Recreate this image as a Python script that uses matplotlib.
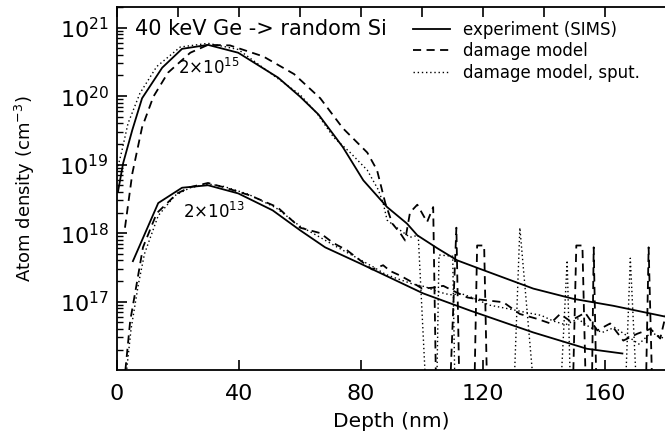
#!/usr/bin/env python
# -*- coding: utf-8 -*-

import numpy as np
import matplotlib
matplotlib.use('Agg')
import matplotlib.pyplot as plt
from matplotlib.ticker import MultipleLocator, LogLocator

plt.rcParams['font.family'] = ['DejaVu Sans']
plt.rcParams['mathtext.fontset'] = 'dejavusans'

LOW = 1e15  # below the axis -> line drops to the bottom

# 2e15 dose
hi_exp_x = [0.3, 2, 5, 8.2, 14.8, 21.3, 29.8, 39.7, 52.8, 60, 66, 74, 80.7, 88.5, 95,
            98.4, 105, 111.5, 119, 136.4, 149.5, 162.6, 180]
hi_exp_y = [4.0e18, 1.05e19, 3.2e19, 9.3e19, 2.6e20, 4.9e20, 5.6e20, 4.3e20, 1.86e20,
            9.8e19, 5.4e19, 1.8e19, 5.9e18, 2.4e18, 1.38e18, 9.3e17, 6.0e17, 4.0e17,
            3.0e17, 1.55e17, 1.1e17, 8.7e16, 6.0e16]

hi_dam_x = [2.6, 5, 8.2, 11.9, 16.7, 24, 29.8, 37, 47.9, 58, 66.6, 74, 82, 85.2, 87.9,
            90.2, 92.8, 94.4, 96, 98.4, 101.6, 103.6, 104.8, 108.5, 111.2, 112.5, 116.8,
            118, 120.3, 121.6, 149, 150.5, 152.5, 154, 155.4, 156.2, 157.4, 173, 174.2,
            175.8, 180]
hi_dam_y = [1.2e18, 7.4e18, 3.5e19, 9.8e19, 2.2e20, 4.3e20, 5.6e20, 5.5e20, 3.8e20,
            2.1e20, 9.3e19, 3.4e19, 1.5e19, 8.3e18, 2.75e18, 1.38e18, 1.0e18, 7.8e17,
            2.0e18, 2.6e18, 1.45e18, 2.4e18, LOW, LOW, 1.2e18, LOW, LOW, 6.6e17, 6.6e17,
            LOW, LOW, 6.6e17, 6.6e17, LOW, LOW, 6.2e17, LOW, LOW, 6.2e17, LOW, LOW]

hi_spu_x = [0, 1.6, 3.6, 7.5, 13, 20.7, 29.8, 39.7, 52, 60, 65.5, 71, 76.4, 82, 85.6,
            87.2, 88.5, 92.8, 96, 98.7, 102, 104.5, 105.5, 110, 111, 129.5, 132, 138,
            144.6, 147.5, 149, 166, 168.2, 171, 180]
hi_spu_y = [8.3e18, 1.6e19, 4.0e19, 1.1e20, 2.7e20, 5.2e20, 5.9e20, 4.8e20, 1.9e20,
            1.05e20, 5.6e19, 2.5e19, 1.5e19, 8.3e18, 4.3e18, 2.75e18, 1.55e18, 1.1e18,
            8.7e17, 9.3e17, LOW, LOW, 4.8e17, 4.6e17, LOW, LOW, 1.2e18, LOW,
            LOW, 4.0e17, LOW, LOW, 4.3e17, LOW, LOW]

# 2e13 dose
lo_exp_x = [5.2, 13.5, 21.3, 29.8, 39.7, 51, 60, 68.2, 79.7, 100.3, 115.7, 136.4, 154, 165.6]
lo_exp_y = [3.9e17, 2.75e18, 4.6e18, 5.0e18, 3.8e18, 2.15e18, 1.1e18, 6.2e17, 3.6e17,
            1.32e17, 7.4e16, 3.55e16, 2.05e16, 1.75e16]

lo_dam_x = [2.3, 4.3, 6.6, 8.5, 13, 19.7, 24, 29.8, 34.8, 43.6, 52.5, 60, 66.6, 70.8,
            75.4, 79.7, 83.6, 87.2, 89.5, 92.8, 96, 100, 103.6, 106.9, 110, 114.8, 119,
            126.6, 132, 137.7, 142, 145.2, 148.5, 153.4, 157.4, 161.6, 165.9, 170.5,
            174.8, 178, 180]
lo_dam_y = [6.3e15, 5.2e16, 2.0e17, 6.2e17, 1.95e18, 3.8e18, 4.7e18, 5.4e18, 4.7e18,
            3.55e18, 2.4e18, 1.2e18, 1.0e18, 7.2e17, 5.6e17, 4.0e17, 2.95e17, 3.4e17,
            2.8e17, 2.4e17, 2.0e17, 1.55e17, 1.6e17, 1.7e17, 1.45e17, 1.15e17, 1.07e17,
            9.8e16, 6.6e16, 5.6e16, 4.8e16, 6.6e16, 5.2e16, 6.9e16, 3.8e16, 4.8e16,
            2.7e16, 3.4e16, 4.0e16, 2.9e16, 6.9e16]

lo_spu_x = [2.9, 4.6, 7, 9, 13.5, 19, 24, 30, 35, 43, 52, 60, 65, 72, 78, 84, 88, 92,
            97, 101, 105, 109, 113, 117, 122, 128, 133, 139, 143, 147, 151, 155, 159,
            163, 167, 171, 175, 180]
lo_spu_y = [7.9e15, 4.0e16, 1.8e17, 5.0e17, 1.8e18, 3.55e18, 4.6e18, 5.2e18, 4.8e18,
            3.7e18, 2.35e18, 1.26e18, 9.5e17, 6.3e17, 4.5e17, 3.2e17, 2.5e17, 2.15e17,
            1.8e17, 1.65e17, 1.4e17, 1.26e17, 1.3e17, 1.12e17, 8.9e16, 7.9e16, 7.1e16,
            6.3e16, 5.2e16, 4.6e16, 5.6e16, 4.2e16, 3.55e16, 4.2e16, 3.2e16, 2.4e16,
            3.55e16, 2.8e16]

fig = plt.figure(figsize=(6.65, 4.37), dpi=100)
ax = fig.add_axes([0.176, 0.153, 0.826, 0.831])

dash = (0, (4.5, 3))
ax.plot(hi_exp_x, hi_exp_y, color='k', lw=1.3, label='experiment (SIMS)')
ax.plot(hi_dam_x, hi_dam_y, color='k', lw=1.3, linestyle=dash, label='damage model')
ax.plot(hi_spu_x, hi_spu_y, color='k', lw=1.0, linestyle=(0, (1, 2)),
        label='damage model, sput.')
ax.plot(lo_exp_x, lo_exp_y, color='k', lw=1.3)
ax.plot(lo_dam_x, lo_dam_y, color='k', lw=1.3, linestyle=dash)
ax.plot(lo_spu_x, lo_spu_y, color='k', lw=1.0, linestyle=(0, (1, 2)))

ax.set_yscale('log')
ax.set_xlim(0, 180)
ax.set_ylim(1e16, 2e21)

ax.xaxis.set_major_locator(MultipleLocator(40))
ax.xaxis.set_minor_locator(MultipleLocator(20))
ax.yaxis.set_minor_locator(LogLocator(base=10, subs=np.arange(2, 10), numticks=10))
ax.set_yticks([1e17, 1e18, 1e19, 1e20, 1e21])
ax.set_yticklabels(['$10^{17}$', '$10^{18}$', '$10^{19}$', '$10^{20}$', '$10^{21}$'])

ax.tick_params(axis='both', which='major', direction='in', labelsize=16,
               length=7, width=1.2, top=True, right=False)
ax.tick_params(axis='x', which='minor', direction='in', length=7, width=1.2,
               bottom=False, top=True)
ax.tick_params(axis='y', which='minor', direction='in', length=4, width=1.0,
               right=False)
ax.tick_params(axis='x', which='major', pad=10)
ax.tick_params(axis='y', which='major', pad=6)
for s in ax.spines.values():
    s.set_linewidth(1.3)

ax.set_xlabel('Depth (nm)', fontsize=14.5, labelpad=6)
ax.set_ylabel('Atom density (cm$^{-3}$)', fontsize=13, labelpad=16)

fig.text(135 / 665, 1 - 35 / 437, '40 keV Ge -> random Si', fontsize=15,
         va='baseline', ha='left')
ax.text(30, 2.12e20, '2×10$^{15}$', fontsize=12, ha='center', va='baseline')
ax.text(31.8, 1.64e18, '2×10$^{13}$', fontsize=12, ha='center', va='baseline')

ax.legend(loc='upper left', bbox_to_anchor=(413 / 665, 1 - 21 / 437),
          bbox_transform=fig.transFigure, frameon=False, fontsize=12,
          handlelength=2.2, handletextpad=0.8, labelspacing=0.2, borderpad=0,
          borderaxespad=0)

plt.savefig('out.png', format='png', dpi=100)
